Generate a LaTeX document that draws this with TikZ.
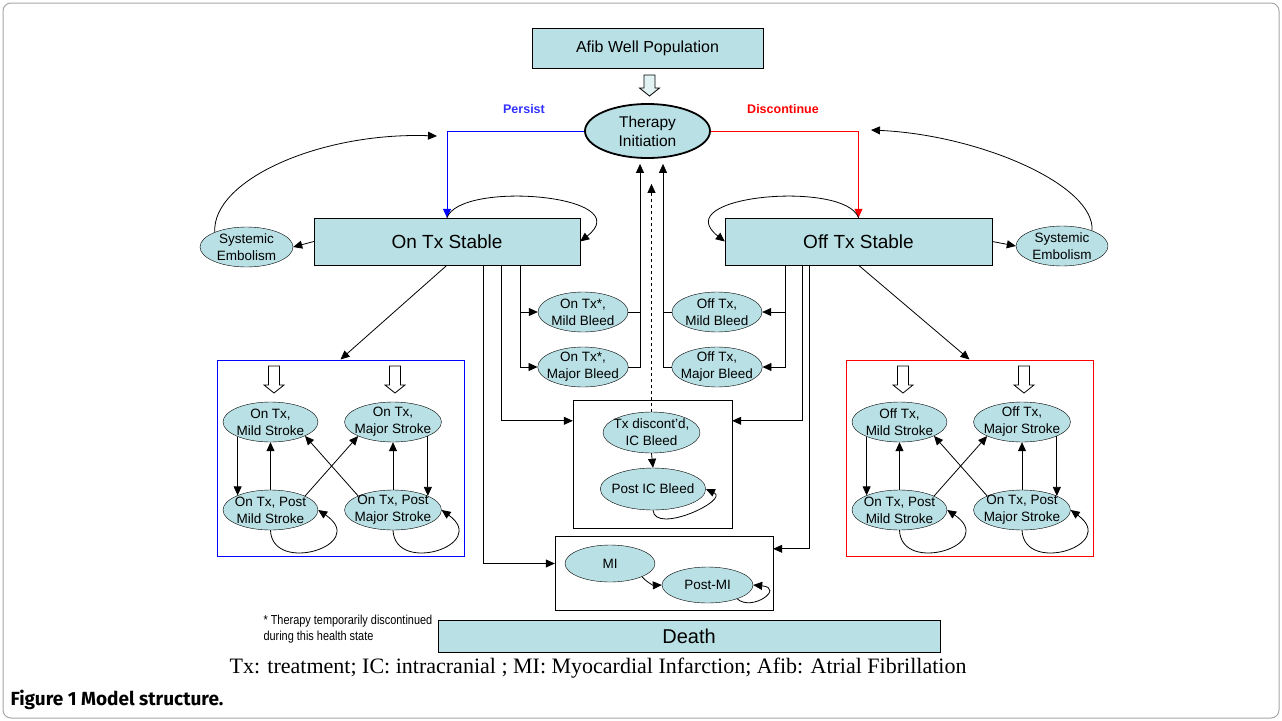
\documentclass[tikz,border=0pt]{standalone}
\usepackage{fontspec}
\setmainfont{Liberation Sans}
\newfontfamily\legendfont{Liberation Serif}
\newfontfamily\captionfont{Fira Sans}
\newfontfamily\narrowfont{Liberation Sans}[FakeStretch=0.84]
\usetikzlibrary{shapes.geometric,arrows.meta,calc}
\definecolor{stateteal}{RGB}{185,224,228}
\definecolor{persistblue}{RGB}{50,50,255}

% block arrow: x centre, y top, length, fill
\newcommand{\blockarrow}[4]{%
\draw[line width=0.8pt,fill=#4] ({#1-5.5},#2) -- ({#1+5.5},#2) -- ({#1+5.5},{#2+#3-8})
 -- ({#1+10},{#2+#3-8}) -- (#1,{#2+#3}) -- ({#1-10},{#2+#3-8}) -- ({#1-5.5},{#2+#3-8}) -- cycle;}

\begin{document}
\begin{tikzpicture}[x=1pt,y=-1pt,
every node/.style = {
align          = center,
text           = black},
state/.style  = {ellipse,
draw,
fill           = stateteal,
inner sep      = -4pt,
minimum width  = 90pt,
minimum height = 40pt,
font           = \fontsize{13.5}{17}\selectfont},
stable/.style = {rectangle,
draw,
fill           = stateteal,
minimum height = 47pt,
font           = \fontsize{19}{22}\selectfont},
group/.style  = {rectangle,
draw,
line width     = 1pt,
minimum width  = 247pt,
minimum height = 196pt},
flow/.style   = {-{Triangle[length=9pt,width=8pt]},
line width     = 0.8pt}
]
\useasboundingbox (0,0) rectangle (1282,720);
\draw[gray!70, rounded corners=8pt, line width=1pt] (3,3) rectangle (1279,718);
%
\node[stable, minimum width=231pt, minimum height=40pt, font=\fontsize{16}{19}\selectfont] (afib) at (647.5,48) {Afib Well Population};
\node[state, minimum width=125pt, minimum height=54pt, line width=1.8pt, font=\fontsize{15.5}{19}\selectfont] (therapy) at (647.5,131) {Therapy\\Initiation};
\node[text=persistblue, font=\bfseries\fontsize{12.5}{15}\selectfont] (persist) at (524,109) {Persist};
\node[text=red, font=\bfseries\fontsize{12.5}{15}\selectfont] (discont) at (783,109) {Discontinue};
\node[stable, minimum width=266pt] (ontx) at (447,241.5) {On Tx Stable};
\node[stable, minimum width=267pt] (offtx) at (858.5,241.5) {Off Tx Stable};
\node[state, minimum width=93pt] (embL) at (246.5,247) {Systemic\\Embolism};
\node[state, minimum width=92pt] (embR) at (1062,246) {Systemic\\Embolism};
\node[state] (onmild) at (583,312) {On Tx*,\\Mild Bleed};
\node[state] (onmajor) at (583,367) {On Tx*,\\Major Bleed};
\node[state] (offmild) at (717,312) {Off Tx,\\Mild Bleed};
\node[state] (offmajor) at (717,367) {Off Tx,\\Major Bleed};
%
\node[draw, minimum width=159pt, minimum height=128pt] (icbox) at (652.5,464) {};
\node[state, minimum width=97pt, minimum height=41pt] (icbleed) at (651.5,432.5) {Tx discont'd,\\IC Bleed};
\node[state, minimum width=88pt, minimum height=42pt] (posticb) at (653,489) {Post IC Bleed};
\node[draw, minimum width=218pt, minimum height=74pt] (mibox) at (664,573) {};
\node[state, minimum height=37pt] (mi) at (610,563.5) {MI};
\node[state, minimum width=91pt, minimum height=36pt] (postmi) at (707.5,585) {Post-MI};
\node[stable, minimum width=502pt, minimum height=32pt, font=\fontsize{20}{22}\selectfont] (death) at (689,636) {Death};
%
\node[group, draw=blue] (onbox) at (340.5,458) {};
\node[group, draw=red] (offbox) at (969.5,458) {};
\node[state, minimum width=95pt] (onms) at (270.5,422) {On Tx,\\Mild Stroke};
\node[state, minimum width=95pt] (onmj) at (393,422) {On Tx,\\Major Stroke};
\node[state, minimum width=95pt] (onpms) at (270.5,510) {On Tx, Post\\Mild Stroke};
\node[state, minimum width=95pt] (onpmj) at (393,510) {On Tx, Post\\Major Stroke};
\node[state, minimum width=95pt] (offms) at (899.5,422) {Off Tx,\\Mild Stroke};
\node[state, minimum width=95pt] (offmj) at (1022,422) {Off Tx,\\Major Stroke};
\node[state, minimum width=95pt] (offpms) at (899.5,510) {On Tx, Post\\Mild Stroke};
\node[state, minimum width=95pt] (offpmj) at (1022,510) {On Tx, Post\\Major Stroke};
%
\node[anchor=west, align=left, font=\narrowfont\fontsize{13}{16}\selectfont] (note) at (260,629) {* Therapy temporarily discontinued\\during this health state};
\node[font=\legendfont\fontsize{22}{24}\selectfont] (legend) at (598,668) {Tx: treatment; IC: intracranial ; MI: Myocardial Infarction; Afib: Atrial Fibrillation};
\node[anchor=west, font=\captionfont\bfseries\fontsize{19}{22}\selectfont] (caption) at (7,700) {Figure 1 Model structure.};
%
\blockarrow{649.5}{75}{21}{stateteal!40}
\blockarrow{274}{366}{27}{white}
\blockarrow{395}{366}{27}{white}
\blockarrow{903}{366}{27}{white}
\blockarrow{1024}{366}{27}{white}
%
\coordinate (persistin) at (437,136);
\coordinate (discontin) at (871,130);
\draw[flow, blue] (therapy.west) -| (ontx.north);
\draw[flow, red] (therapy.east) -| (offtx.north);
\draw[flow] (ontx.north) .. controls (460,180) and (640,195) .. (ontx.east);
\draw[flow] (offtx.north) .. controls (845.5,180) and (665.5,195) .. (offtx.west);
\draw[flow] (ontx.west) -- (embL.east);
\draw[flow] (offtx.east) -- (embR.west);
\draw[flow] (embL.155) .. controls (212,180) and (320,132) .. (persistin);
\draw[flow] (embR.27) .. controls (1095,185) and (980,135) .. (discontin);
\draw[flow] (ontx.south) -- (onbox.north);
\draw[flow] (offtx.south) -- (offbox.north);
%
\draw[flow] ($(ontx.south east)+(-60,0)$) |- (onmild.west);
\draw[flow] ($(ontx.south east)+(-60,0)$) |- (onmajor.west);
\draw[flow] ($(ontx.south east)+(-79,0)$) |- ($(icbox.north west)+(0,21)$);
\draw[flow] ($(ontx.south east)+(-97,0)$) |- (mibox.west |- mi);
\draw[flow] ($(offtx.south west)+(61,0)$) |- (offmild.east);
\draw[flow] ($(offtx.south west)+(61,0)$) |- (offmajor.east);
\draw[flow] ($(offtx.south west)+(78,0)$) |- ($(icbox.north east)+(0,21)$);
\draw[flow] ($(offtx.south west)+(85,0)$) |- ($(mibox.north east)+(0,13)$);
%
\draw[line width=0.8pt] (onmild.east) -- ++(12,0);
\draw[flow] (onmajor.east) -| ($(therapy.south)+(-7.5,5)$);
\draw[line width=0.8pt] (offmild.west) -- ++(-9,0);
\draw[flow] (offmajor.west) -| ($(therapy.south)+(15.5,5)$);
\draw[flow, dashed] (icbleed.north) -- ($(therapy.south)+(4,25)$);
\draw[flow] (icbleed.south) -- (posticb.north);
\draw[flow] (posticb.south) .. controls (655,535) and (730,500) .. (posticb.east);
\draw[flow] (mi.south east) to[bend right=25] (postmi.west);
\draw[flow] (postmi.-25) .. controls (752,612) and (785,588) .. (postmi.east);
%
\draw[flow] (onms.-156) -- (onpms.156);
\draw[flow] (onpms.north) -- (onms.south);
\draw[flow] (onpmj.north) -- (onmj.south);
\draw[flow] (onmj.-22) -- (onpmj.22);
\draw[flow] (onpms.22) -- (onmj.-158);
\draw[flow] (onpmj.158) -- (onms.-22);
\draw[flow] (onpms.south) .. controls (272,575) and (370,545) .. (onpms.east);
\draw[flow] (onpmj.south) .. controls (395,575) and (490,545) .. (onpmj.east);
\draw[flow] (offms.-156) -- (offpms.156);
\draw[flow] (offpms.north) -- (offms.south);
\draw[flow] (offpmj.north) -- (offmj.south);
\draw[flow] (offmj.-22) -- (offpmj.22);
\draw[flow] (offpms.22) -- (offmj.-158);
\draw[flow] (offpmj.158) -- (offms.-22);
\draw[flow] (offpms.south) .. controls (901,575) and (999,545) .. (offpms.east);
\draw[flow] (offpmj.south) .. controls (1024,575) and (1119,545) .. (offpmj.east);
%
\end{tikzpicture}
\end{document}
